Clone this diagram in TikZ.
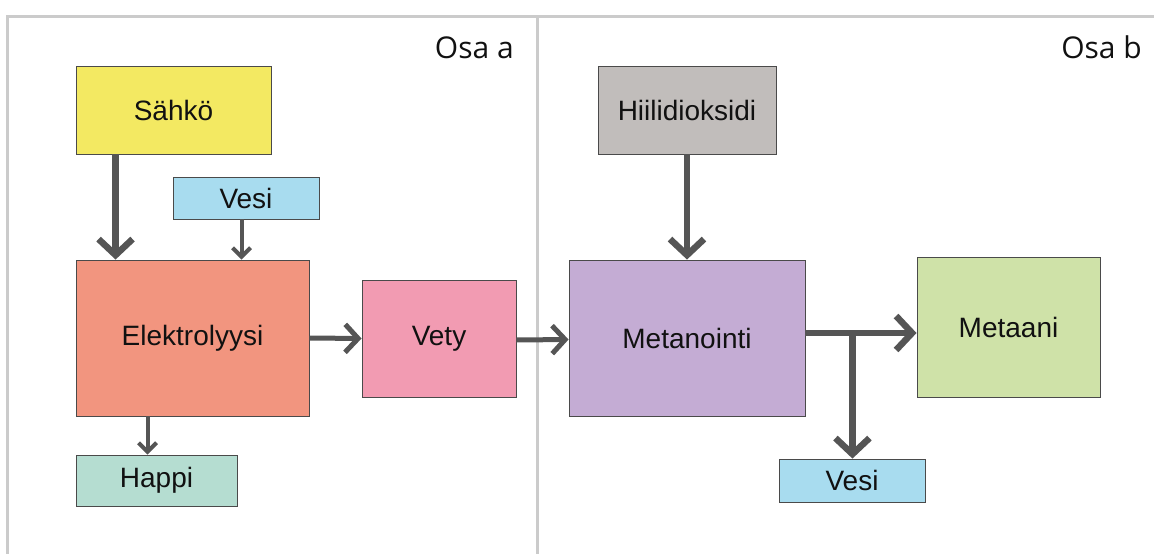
\documentclass[tikz,border=0pt]{standalone}
\usepackage{fontspec}
\setmainfont{Liberation Sans}
\newfontfamily\osafont{Open Sans}
\usetikzlibrary{arrows.meta,calc}
\definecolor{frameC}{HTML}{CBCBCB}
\definecolor{arrC}{HTML}{555555}
\definecolor{bordC}{HTML}{4A4A4A}
\definecolor{yellowC}{HTML}{F3E962}
\definecolor{blueC}{HTML}{A8DCEF}
\definecolor{salmonC}{HTML}{F2957F}
\definecolor{mintC}{HTML}{B5DDD1}
\definecolor{pinkC}{HTML}{F29BB2}
\definecolor{grayC}{HTML}{C1BDBB}
\definecolor{lavC}{HTML}{C4ACD4}
\definecolor{greenC}{HTML}{CFE2A8}
\definecolor{txtC}{HTML}{111111}
\tikzset{
  box/.style={draw=bordC, line width=0.9pt, inner sep=0pt, text=txtC,
    font=\fontsize{28}{32}\selectfont},
  arrbig/.style={draw=arrC, line width=6.5pt, -{Straight Barb[length=16pt,width=34pt]}},
  arrmid/.style={draw=arrC, line width=5pt, -{Straight Barb[length=13pt,width=28pt]}},
  arrthin/.style={draw=arrC, line width=4pt, -{Straight Barb[length=9pt,width=18pt]}},
  osa/.style={font=\osafont\fontsize{30}{34}\selectfont, text=txtC, inner sep=0pt, anchor=base east}
}
\begin{document}
\begin{tikzpicture}[x=1pt,y=-1pt]
\useasboundingbox (0,0) rectangle (1154,554);
% frame
\draw[frameC, line width=3pt] (1154,16) -| (7,554);
\draw[frameC, line width=3pt] (537,16) -- (537,554);
\node[osa] (osaa) at (514,58) {Osa a};
\node[osa] (osab) at (1142,58) {Osa b};
% boxes
\node[box, fill=yellowC, minimum width=195pt, minimum height=88pt] (s) at (173.5,110) {Sähkö};
\node[box, fill=blueC, minimum width=146pt, minimum height=42pt] (v1) at (246,198) {Vesi};
\node[box, fill=salmonC, minimum width=233pt, minimum height=156pt] (e) at (192.5,338) {Elektrolyysi};
\node[box, fill=mintC, minimum width=161pt, minimum height=51pt] (h) at (156.5,480.5) {Happi};
\node[box, fill=pinkC, minimum width=154pt, minimum height=117pt] (vt) at (439,338.5) {Vety};
\node[box, fill=grayC, minimum width=178pt, minimum height=88pt] (hd) at (687,110) {Hiilidioksidi};
\node[box, fill=lavC, minimum width=236pt, minimum height=156pt] (m) at (687,338) {Metanointi};
\node[box, fill=greenC, minimum width=183pt, minimum height=140pt] (mt) at (1008.5,327) {Metaani};
\node[box, fill=blueC, minimum width=146pt, minimum height=43pt] (v2) at (852,480.5) {Vesi};
% connectors
\draw[arrbig] ($(s.south west)+(40,0)$) -- ($(e.north west)+(40,0)$);
\draw[arrthin] ($(v1.south west)+(69,0)$) -- ($(e.north west)+(166,0)$);
\draw[arrthin] ($(e.south west)+(72,0)$) -- ($(h.north west)+(72,0)$);
\draw[arrmid] (e.east) -- (vt.west);
\draw[arrmid] ($(vt.east)+(0,1.5)$) -- ($(m.west)+(0,1.5)$);
\draw[arrbig] (hd.south) -- (m.north);
\coordinate (j) at ($(m.east)+(47,-5)$);
\draw[arrbig] ($(m.east)+(0,-5)$) -- ($(mt.west)+(0,6)$);
\draw[arrbig] ($(j)+(0,-3)$) -- (j |- v2.north);
\end{tikzpicture}
\end{document}
